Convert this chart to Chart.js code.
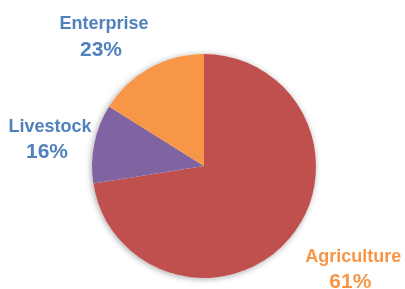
<!DOCTYPE html>
<html lang="en">
<head>
    <meta charset="UTF-8">
    <title>Income Sources</title>
    <script src="https://cdn.jsdelivr.net/npm/chart.js"></script>
    <style>
        body {
            margin: 0;
            padding: 0;
            background: #ffffff;
        }
        #wrap {
            width: 405px;
            height: 289px;
        }
    </style>
</head>
<body>
    <div id="wrap">
        <canvas id="pieChart" width="405" height="289"></canvas>
    </div>

    <script>
        // slices, clockwise from 12 o'clock
        const categories = ['Agriculture', 'Livestock', 'Enterprise'];
        // slice sizes as drawn in the picture
        const sliceValues = [72.5, 11.4, 16.1];
        // percentages printed on the labels
        const percentLabels = ['61%', '16%', '23%'];

        const sliceColors = ['#c0504d', '#8064a2', '#f79646'];
        const textColors = ['#f79646', '#4f81bd', '#4f81bd'];

        // soft shadow behind the whole pie
        const pieShadow = {
            id: 'pieShadow',
            beforeDatasetsDraw(chart) {
                const arc = chart.getDatasetMeta(0).data[0];
                if (!arc) return;
                const ctx = chart.ctx;
                ctx.save();
                ctx.shadowColor = 'rgba(0, 0, 0, 0.35)';
                ctx.shadowBlur = 6;
                ctx.shadowOffsetX = -1;
                ctx.shadowOffsetY = 1;
                ctx.fillStyle = '#ffffff';
                ctx.beginPath();
                ctx.arc(arc.x, arc.y, arc.outerRadius, 0, Math.PI * 2);
                ctx.fill();
                ctx.restore();
            }
        };

        // outside labels, placed relative to pie centre in units of the radius
        const labelSpots = [
            { dx: 1.333, dy: 0.854 },
            { dx: -1.375, dy: -0.306 },
            { dx: -0.893, dy: -1.22 }
        ];

        const outsideLabels = {
            id: 'outsideLabels',
            afterDatasetsDraw(chart) {
                const meta = chart.getDatasetMeta(0);
                const ctx = chart.ctx;
                ctx.save();
                ctx.textAlign = 'center';
                ctx.textBaseline = 'alphabetic';
                meta.data.forEach((arc, i) => {
                    const r = arc.outerRadius;
                    const x = arc.x + labelSpots[i].dx * r;
                    const y = arc.y + labelSpots[i].dy * r;
                    ctx.fillStyle = textColors[i];
                    ctx.font = 'bold 18px "Liberation Sans", Arial, sans-serif';
                    ctx.fillText(categories[i], x, y);
                    ctx.font = 'bold 21px "Liberation Sans", Arial, sans-serif';
                    ctx.fillText(percentLabels[i], x - 3, y + 26.5);
                });
                ctx.restore();
            }
        };

        new Chart(document.getElementById('pieChart'), {
            type: 'pie',
            data: {
                labels: categories,
                datasets: [{
                    data: sliceValues,
                    backgroundColor: sliceColors,
                    borderWidth: 0
                }]
            },
            options: {
                responsive: false,
                animation: false,
                layout: {
                    padding: { top: 54, bottom: 11, left: 92, right: 89 }
                },
                plugins: {
                    legend: { display: false },
                    tooltip: { enabled: false }
                }
            },
            plugins: [pieShadow, outsideLabels]
        });
    </script>
</body>
</html>
